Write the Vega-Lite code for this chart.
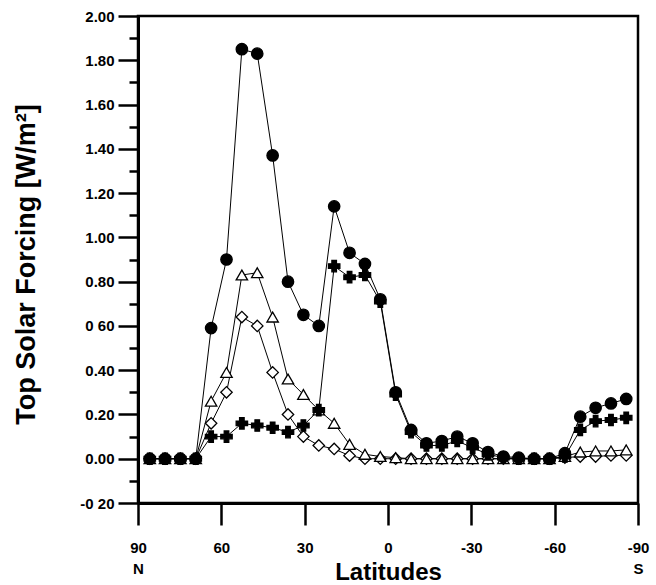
{
  "$schema": "https://vega.github.io/schema/vega-lite/v6.json",
  "width": 500,
  "height": 487,
  "autosize": {"type": "none"},
  "padding": {"left": 138, "top": 16, "right": 18, "bottom": 82},
  "background": "white",
  "config": {
    "view": {"stroke": "black", "strokeWidth": 2.5},
    "axis": {
      "domainColor": "black", "domainWidth": 3, "tickColor": "black", "tickWidth": 2.5,
      "labelFont": "Liberation Sans", "labelFontWeight": "bold", "labelFontSize": 15, "labelColor": "black",
      "titleFont": "Liberation Sans", "titleFontWeight": "bold", "titleColor": "black", "grid": false
    }
  },
  "datasets": {
    "d": [
      {"lat": 85.76, "s": "D", "v": 0}, {"lat": 80.27, "s": "D", "v": 0}, {"lat": 74.74, "s": "D", "v": 0}, {"lat": 69.21, "s": "D", "v": 0},
      {"lat": 63.68, "s": "D", "v": 0.16}, {"lat": 58.14, "s": "D", "v": 0.30}, {"lat": 52.61, "s": "D", "v": 0.64}, {"lat": 47.07, "s": "D", "v": 0.60},
      {"lat": 41.53, "s": "D", "v": 0.39}, {"lat": 36.00, "s": "D", "v": 0.20}, {"lat": 30.46, "s": "D", "v": 0.10}, {"lat": 24.92, "s": "D", "v": 0.06},
      {"lat": 19.38, "s": "D", "v": 0.044}, {"lat": 13.84, "s": "D", "v": 0.014}, {"lat": 8.30, "s": "D", "v": 0}, {"lat": 2.77, "s": "D", "v": 0},
      {"lat": -2.77, "s": "D", "v": 0}, {"lat": -8.30, "s": "D", "v": 0}, {"lat": -13.84, "s": "D", "v": 0}, {"lat": -19.38, "s": "D", "v": 0},
      {"lat": -24.92, "s": "D", "v": 0}, {"lat": -30.46, "s": "D", "v": 0}, {"lat": -36.00, "s": "D", "v": 0}, {"lat": -41.53, "s": "D", "v": 0},
      {"lat": -47.07, "s": "D", "v": 0}, {"lat": -52.61, "s": "D", "v": 0}, {"lat": -58.14, "s": "D", "v": 0}, {"lat": -63.68, "s": "D", "v": 0.005},
      {"lat": -69.21, "s": "D", "v": 0.01}, {"lat": -74.74, "s": "D", "v": 0.01}, {"lat": -80.27, "s": "D", "v": 0.015}, {"lat": -85.76, "s": "D", "v": 0.015},

      {"lat": 85.76, "s": "C", "v": 0}, {"lat": 80.27, "s": "C", "v": 0}, {"lat": 74.74, "s": "C", "v": 0}, {"lat": 69.21, "s": "C", "v": 0},
      {"lat": 63.68, "s": "C", "v": 0.26}, {"lat": 58.14, "s": "C", "v": 0.39}, {"lat": 52.61, "s": "C", "v": 0.83}, {"lat": 47.07, "s": "C", "v": 0.84},
      {"lat": 41.53, "s": "C", "v": 0.64}, {"lat": 36.00, "s": "C", "v": 0.36}, {"lat": 30.46, "s": "C", "v": 0.29}, {"lat": 24.92, "s": "C", "v": 0.22},
      {"lat": 19.38, "s": "C", "v": 0.16}, {"lat": 13.84, "s": "C", "v": 0.065}, {"lat": 8.30, "s": "C", "v": 0.02}, {"lat": 2.77, "s": "C", "v": 0.01},
      {"lat": -2.77, "s": "C", "v": 0.005}, {"lat": -8.30, "s": "C", "v": 0}, {"lat": -13.84, "s": "C", "v": 0}, {"lat": -19.38, "s": "C", "v": 0},
      {"lat": -24.92, "s": "C", "v": 0}, {"lat": -30.46, "s": "C", "v": 0}, {"lat": -36.00, "s": "C", "v": 0}, {"lat": -41.53, "s": "C", "v": 0},
      {"lat": -47.07, "s": "C", "v": 0}, {"lat": -52.61, "s": "C", "v": 0}, {"lat": -58.14, "s": "C", "v": 0}, {"lat": -63.68, "s": "C", "v": 0.01},
      {"lat": -69.21, "s": "C", "v": 0.03}, {"lat": -74.74, "s": "C", "v": 0.035}, {"lat": -80.27, "s": "C", "v": 0.035}, {"lat": -85.76, "s": "C", "v": 0.04},

      {"lat": 85.76, "s": "B", "v": 0}, {"lat": 80.27, "s": "B", "v": 0}, {"lat": 74.74, "s": "B", "v": 0}, {"lat": 69.21, "s": "B", "v": 0},
      {"lat": 63.68, "s": "B", "v": 0.10}, {"lat": 58.14, "s": "B", "v": 0.10}, {"lat": 52.61, "s": "B", "v": 0.16}, {"lat": 47.07, "s": "B", "v": 0.15},
      {"lat": 41.53, "s": "B", "v": 0.14}, {"lat": 36.00, "s": "B", "v": 0.12}, {"lat": 30.46, "s": "B", "v": 0.15}, {"lat": 24.92, "s": "B", "v": 0.22},
      {"lat": 19.38, "s": "B", "v": 0.87}, {"lat": 13.84, "s": "B", "v": 0.82}, {"lat": 8.30, "s": "B", "v": 0.83}, {"lat": 2.77, "s": "B", "v": 0.71},
      {"lat": -2.77, "s": "B", "v": 0.29}, {"lat": -8.30, "s": "B", "v": 0.12}, {"lat": -13.84, "s": "B", "v": 0.06}, {"lat": -19.38, "s": "B", "v": 0.06},
      {"lat": -24.92, "s": "B", "v": 0.08}, {"lat": -30.46, "s": "B", "v": 0.05}, {"lat": -36.00, "s": "B", "v": 0.02}, {"lat": -41.53, "s": "B", "v": 0.005},
      {"lat": -47.07, "s": "B", "v": 0}, {"lat": -52.61, "s": "B", "v": 0}, {"lat": -58.14, "s": "B", "v": 0}, {"lat": -63.68, "s": "B", "v": 0.01},
      {"lat": -69.21, "s": "B", "v": 0.13}, {"lat": -74.74, "s": "B", "v": 0.17}, {"lat": -80.27, "s": "B", "v": 0.175}, {"lat": -85.76, "s": "B", "v": 0.185},

      {"lat": 85.76, "s": "A", "v": 0}, {"lat": 80.27, "s": "A", "v": 0}, {"lat": 74.74, "s": "A", "v": 0}, {"lat": 69.21, "s": "A", "v": 0},
      {"lat": 63.68, "s": "A", "v": 0.59}, {"lat": 58.14, "s": "A", "v": 0.90}, {"lat": 52.61, "s": "A", "v": 1.85}, {"lat": 47.07, "s": "A", "v": 1.83},
      {"lat": 41.53, "s": "A", "v": 1.37}, {"lat": 36.00, "s": "A", "v": 0.80}, {"lat": 30.46, "s": "A", "v": 0.65}, {"lat": 24.92, "s": "A", "v": 0.60},
      {"lat": 19.38, "s": "A", "v": 1.14}, {"lat": 13.84, "s": "A", "v": 0.93}, {"lat": 8.30, "s": "A", "v": 0.88}, {"lat": 2.77, "s": "A", "v": 0.72},
      {"lat": -2.77, "s": "A", "v": 0.30}, {"lat": -8.30, "s": "A", "v": 0.13}, {"lat": -13.84, "s": "A", "v": 0.07}, {"lat": -19.38, "s": "A", "v": 0.08},
      {"lat": -24.92, "s": "A", "v": 0.10}, {"lat": -30.46, "s": "A", "v": 0.07}, {"lat": -36.00, "s": "A", "v": 0.03}, {"lat": -41.53, "s": "A", "v": 0.01},
      {"lat": -47.07, "s": "A", "v": 0.005}, {"lat": -52.61, "s": "A", "v": 0}, {"lat": -58.14, "s": "A", "v": 0}, {"lat": -63.68, "s": "A", "v": 0.025},
      {"lat": -69.21, "s": "A", "v": 0.19}, {"lat": -74.74, "s": "A", "v": 0.23}, {"lat": -80.27, "s": "A", "v": 0.25}, {"lat": -85.76, "s": "A", "v": 0.27}
    ]
  },
  "data": {"name": "d"},
  "resolve": {"axis": {"y": "independent"}},
  "layer": [
    {
      "mark": {"type": "line", "color": "black", "strokeWidth": 1},
      "encoding": {
        "x": {"field": "lat", "type": "quantitative",
          "scale": {"domain": [90, -90], "nice": false, "zero": false},
          "axis": {"values": [90, 60, 30, 0, -30, -60, -90], "tickSize": 22, "labelPadding": 15,
            "labelExpr": "datum.value == 90 ? ['90', 'N'] : datum.value == -90 ? ['-90', 'S'] : '' + datum.value",
            "labelLineHeight": 21, "labelFlush": false,
            "title": "Latitudes", "titleFontSize": 24, "titleY": 76, "titleBaseline": "alphabetic"}},
        "y": {"field": "v", "type": "quantitative",
          "scale": {"domain": [-0.2, 2.0], "nice": false, "zero": false},
          "axis": {"orient": "left", "values": [-0.2, 0, 0.2, 0.4, 0.6, 0.8, 1.0, 1.2, 1.4, 1.6, 1.8, 2.0],
            "tickSize": 20, "labelPadding": 4,
            "labelExpr": "abs(datum.value - 0.6) < 0.001 ? '0 60' : abs(datum.value + 0.2) < 0.001 ? '-0 20' : format(datum.value, '.2f')",
            "title": "Top Solar Forcing [W/m²]", "titleFontSize": 27, "titleX": -104, "titleY": 248,
            "titleBaseline": "alphabetic", "titleAngle": -90, "titleAlign": "center"}},
        "detail": {"field": "s", "type": "nominal"}
      }
    },
    {
      "mark": {"type": "point", "filled": false, "strokeWidth": 1.3, "opacity": 1, "stroke": "black"},
      "encoding": {
        "x": {"field": "lat", "type": "quantitative"},
        "y": {"field": "v", "type": "quantitative",
          "axis": {"orient": "left", "values": [-0.1, 0.1, 0.3, 0.5, 0.7, 0.9, 1.1, 1.3, 1.5, 1.7, 1.9],
            "labels": false, "domain": false, "tickSize": 9, "title": null}},
        "shape": {"field": "s", "type": "nominal", "legend": null,
          "scale": {"domain": ["A", "B", "C", "D"], "range": ["circle", "cross", "triangle-up", "diamond"]}},
        "fill": {"field": "s", "type": "nominal", "legend": null,
          "scale": {"domain": ["A", "B", "C", "D"], "range": ["black", "black", "white", "white"]}},
        "size": {"field": "s", "type": "nominal", "legend": null,
          "scale": {"domain": ["A", "B", "C", "D"], "range": [130, 130, 110, 120]}},
        "order": {"field": "s", "type": "nominal", "sort": "descending"}
      }
    }
  ]
}
